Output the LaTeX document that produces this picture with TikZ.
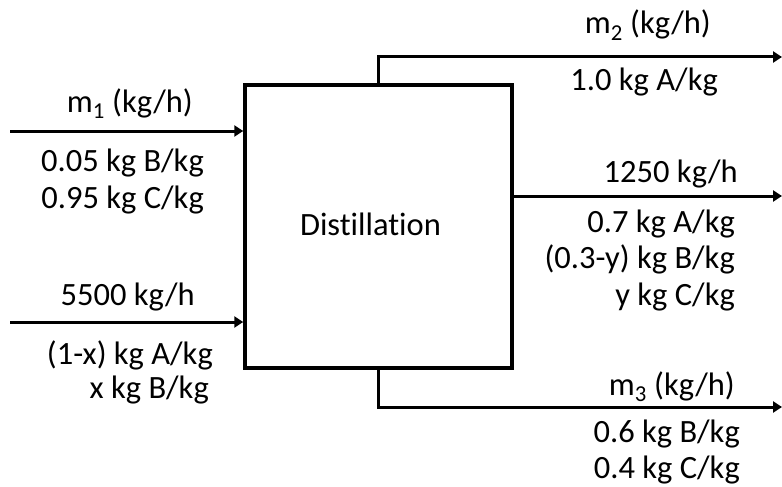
\documentclass[tikz,border=0pt]{standalone}
\usepackage{fontspec}
\setmainfont{Carlito}[Ligatures=NoCommon]
\usetikzlibrary{arrows.meta}
\begin{document}
\begin{tikzpicture}[x=1pt,y=-1pt,
  lbl/.style={inner sep=0pt,anchor=base east,font=\fontsize{32.5}{37}\selectfont},
  arr/.style={line width=3pt,-{Triangle[length=9pt,width=11pt]}},
  unit/.style={draw,line width=3.5pt,inner sep=0pt,minimum width=267pt,minimum height=283pt}]
\useasboundingbox (0,0) rectangle (782,487);
\node[unit] (dist) at (378.5,226.5) {};
\node[inner sep=0pt,anchor=base,font=\fontsize{32.5}{37}\selectfont] (dtext) at (370.5,235) {Distillation};
% connector end points
\coordinate (in1) at (10,131);
\coordinate (in2) at (10,322);
\coordinate (top) at (378,85);
\coordinate (topc) at (378,57);
\coordinate (out2) at (782,57);
\coordinate (out1s) at (512,196);
\coordinate (out1) at (782,196);
\coordinate (bot) at (378,368);
\coordinate (botc) at (378,407);
\coordinate (out3) at (782,407);
\draw[arr] (in1) -- (in1 -| dist.west);
\draw[arr] (in2) -- (in2 -| dist.west);
\draw[arr] (dist.north -| top) -- (topc) -- (out2);
\draw[arr] (out1s -| dist.east) -- (out1);
\draw[arr] (dist.south -| bot) -- (botc) -- (out3);
% labels left
\node[lbl] (l1) at (193,112) {m\textsubscript{1} (kg/h)};
\node[lbl] (l2) at (204,171) {0.05 kg B/kg};
\node[lbl] (l3) at (204,208) {0.95 kg C/kg};
\node[lbl] (l4) at (195,305) {5500 kg/h};
\node[lbl] (l5) at (213,364) {(1-x) kg A/kg};
\node[lbl] (l6) at (209,398) {x kg B/kg};
% labels right
\node[lbl] (r1) at (711,34) {m\textsubscript{2} (kg/h)};
\node[lbl] (r2) at (718,91) {1.0 kg A/kg};
\node[lbl] (r3) at (738,182) {1250 kg/h};
\node[lbl] (r4) at (735,232) {0.7 kg A/kg};
\node[lbl] (r5) at (735,268) {(0.3-y) kg B/kg};
\node[lbl] (r6) at (735,305) {y kg C/kg};
\node[lbl] (r7) at (735,395) {m\textsubscript{3} (kg/h)};
\node[lbl] (r8) at (740,442) {0.6 kg B/kg};
\node[lbl] (r9) at (740,478) {0.4 kg C/kg};
\end{tikzpicture}
\end{document}
